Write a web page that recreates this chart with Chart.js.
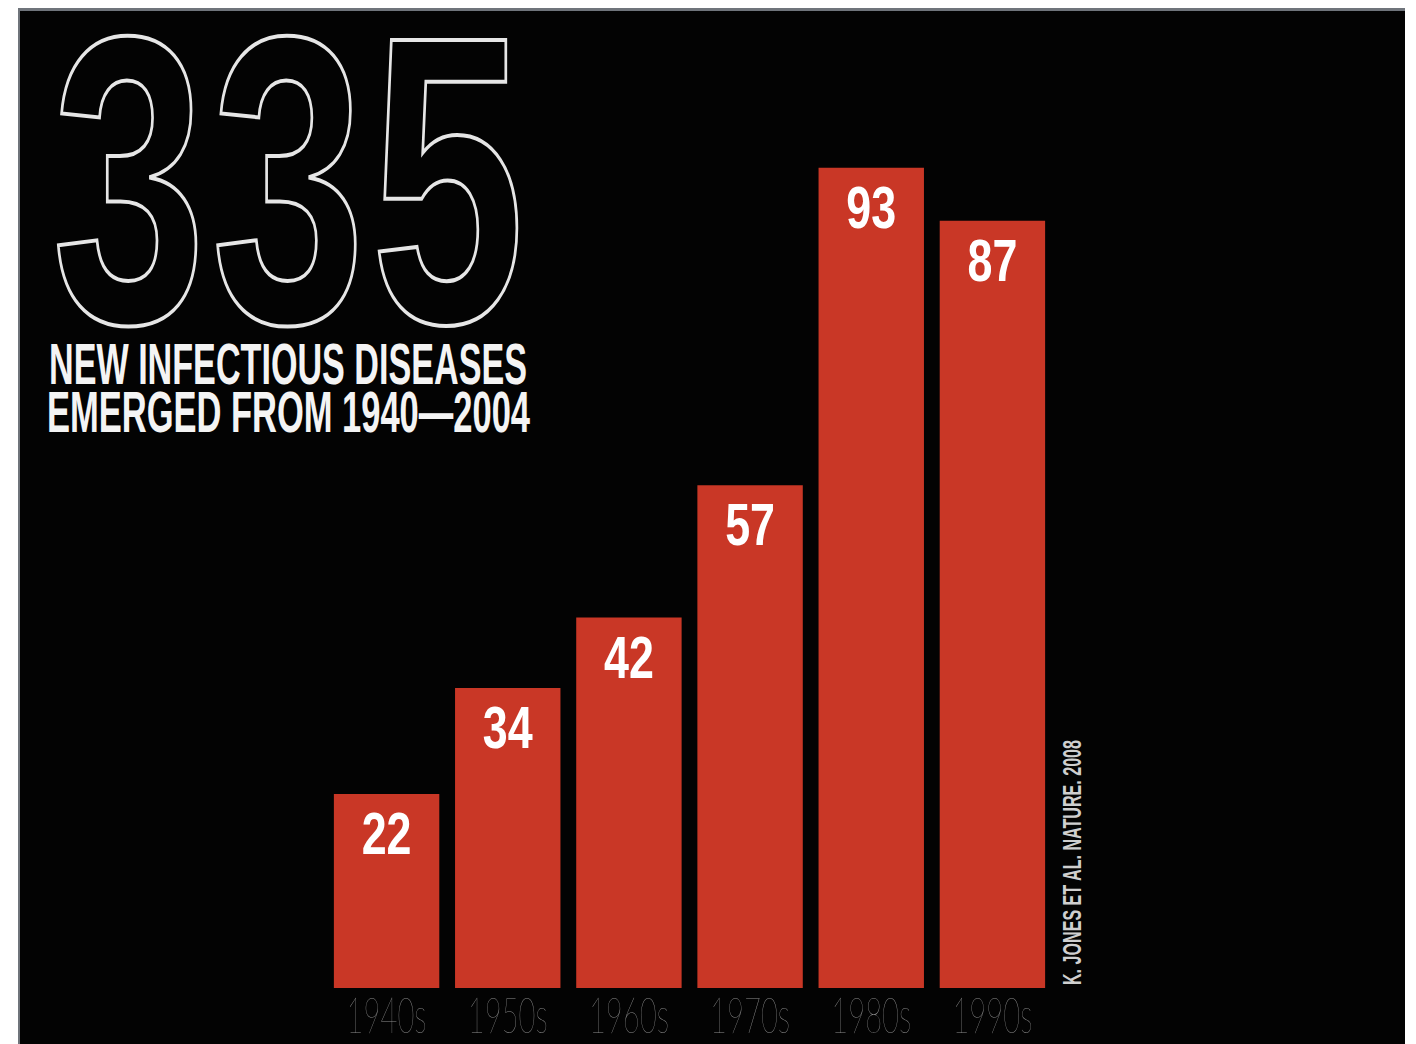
<!DOCTYPE html>
<html>
<head>
<meta charset="utf-8">
<script src="https://cdn.jsdelivr.net/npm/chart.js@4"></script>
<style>
  html, body { margin: 0; padding: 0; background: #fff; width: 1416px; height: 1044px; overflow: hidden; }
  #panel {
    position: absolute; left: 18px; top: 8px; width: 1385px; height: 1036px;
    background: #030303; border-top: 3px solid #6f747b; border-left: 2px solid #6f747b;
  }
  .txt { position: absolute; white-space: nowrap; line-height: 1; transform-origin: 0 0; }
  #big {
    font-family: "Liberation Sans Narrow", "Liberation Sans", sans-serif; font-size: 410px; font-weight: bold;
    color: transparent; -webkit-text-stroke: 4px #e6e6e6; letter-spacing: 8px;
  }
  .sub { font-family: "Liberation Sans Narrow", "Liberation Sans", sans-serif; font-weight: bold; font-size: 57px; color: #f4f4f4; }
  #source { font-family: "Liberation Sans Narrow", "Liberation Sans", sans-serif; font-weight: bold; font-size: 25px; color: #cfcfcf; }
  canvas { position: absolute; left: 0; top: 0; }
</style>
</head>
<body>
<div id="panel"></div>
<div class="txt" id="big" data-w="478" style="left:52px; top:-25px;">335</div>
<div class="txt sub" id="sub1" data-w="478" style="left:49px; top:336px;">NEW INFECTIOUS DISEASES</div>
<div class="txt sub" id="sub2" data-w="483" style="left:47px; top:384px;">EMERGED FROM 1940—2004</div>
<div class="txt" id="source" style="left:1060px; top:985px;">K. JONES ET AL. NATURE. 2008</div>
<canvas id="chart" width="1416" height="1044"></canvas>
<script>
// Chart data
const decades = ["1940s", "1950s", "1960s", "1970s", "1980s", "1990s"];
const newDiseases = [22, 34, 42, 57, 93, 87];
const barColor = "#c93726";

// squeeze the headline texts to their widths
document.querySelectorAll('.txt[data-w]').forEach(function (el) {
  const w = el.getBoundingClientRect().width;
  el.style.transform = 'scaleX(' + (parseFloat(el.dataset.w) / w) + ')';
});
const src = document.getElementById('source');
const srcW = src.getBoundingClientRect().width;
src.style.transform = 'rotate(-90deg) scaleX(' + (245 / srcW) + ')';

// value labels inside the bars and decade labels under them
const barText = {
  id: 'barText',
  afterDatasetsDraw(chart) {
    const ctx = chart.ctx;
    const meta = chart.getDatasetMeta(0);
    const xScale = chart.scales.x;
    meta.data.forEach(function (bar, i) {
      ctx.save();
      ctx.translate(bar.x, bar.y + 60);
      ctx.scale(0.76, 1);
      ctx.font = 'bold 59px "Liberation Sans Narrow", "Liberation Sans", sans-serif';
      ctx.fillStyle = '#ffffff';
      ctx.textAlign = 'center';
      ctx.textBaseline = 'alphabetic';
      ctx.fillText(String(newDiseases[i]), 0, 0);
      ctx.restore();
    });
    decades.forEach(function (lab, i) {
      ctx.save();
      ctx.font = '100 50px Lato, "Liberation Sans Narrow", sans-serif';
      const w = ctx.measureText(lab).width;
      ctx.translate(xScale.getPixelForTick(i), 1033);
      ctx.scale(80 / w, 1);
      ctx.fillStyle = '#909090';
      ctx.textAlign = 'center';
      ctx.textBaseline = 'alphabetic';
      ctx.fillText(lab, 0, 0);
      ctx.restore();
    });
  }
};

const config = {
  type: 'bar',
  data: {
    labels: decades,
    datasets: [{
      data: newDiseases,
      backgroundColor: barColor,
      borderWidth: 0,
      barPercentage: 0.87,
      categoryPercentage: 1
    }]
  },
  options: {
    responsive: false,
    animation: false,
    layout: { padding: { left: 326, right: 363, top: 106, bottom: 56 } },
    plugins: { legend: { display: false }, tooltip: { enabled: false } },
    scales: {
      x: { display: false },
      y: { display: false, min: 0, max: 100 }
    }
  },
  plugins: [barText]
};

const diseaseChart = new Chart(document.getElementById('chart'), config);
</script>
</body>
</html>
